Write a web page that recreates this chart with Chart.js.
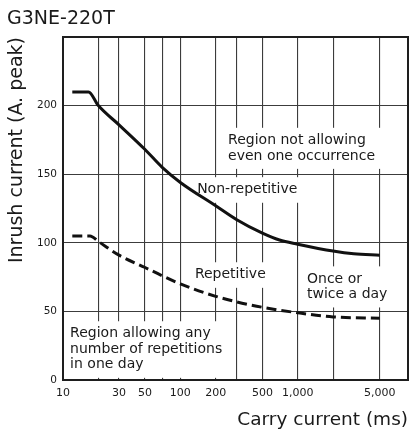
<!DOCTYPE html>
<html>
<head>
<meta charset="utf-8">
<script src="https://cdn.jsdelivr.net/npm/chart.js@4/dist/chart.umd.min.js"></script>
<style>
  html, body { margin: 0; padding: 0; background: #fff; }
  #wrap { position: relative; width: 409px; height: 430px; }
</style>
</head>
<body>
<div id="wrap"><canvas id="inrush"></canvas></div>
<script>
const chartTitle = 'G3NE-220T';
const xTitle = 'Carry current (ms)';
const yTitle = 'Inrush current (A. peak)';

// carry time (ms) against allowed inrush current (A peak)
const nonRepMs = [12, 16.5, 20, 30, 50, 70, 100, 200, 300, 500, 700, 1000, 2000, 3000, 5000];
const nonRepAmps = [210, 210, 200, 186, 168, 155, 144, 127, 117, 107, 102, 99, 94, 92, 91];
const repMs = [12, 17, 20, 30, 50, 70, 100, 200, 300, 500, 1000, 2000, 5000];
const repAmps = [105, 105, 101, 91, 82, 76, 70, 61, 57, 53, 49, 46, 45];

const xGridValues = [10, 20, 30, 50, 70, 100, 200, 300, 500, 1000, 2000, 5000];
const xTickLabels = { 10: '10', 30: '30', 50: '50', 100: '100', 200: '200', 500: '500', 1000: '1,000', 5000: '5,000' };
const yTickLabels = [0, 50, 100, 150, 200];

const FONT = 'DejaVu Sans';
const INK = '#1a1a1a';

const toPoints = (xs, ys) => xs.map((x, i) => ({ x, y: ys[i] }));

// text blocks sitting on white patches over the grid
const regionNotes = {
  id: 'regionNotes',
  beforeDatasetsDraw(chart, args, opts) {
    const { ctx, chartArea, scales: { x, y } } = chart;
    ctx.save();
    ctx.font = `${opts.size}px "${FONT}"`;
    ctx.textBaseline = 'alphabetic';
    opts.items.forEach(item => {
      const left = x.getPixelForValue(item.ms);
      const base = y.getPixelForValue(item.amps);
      const w = Math.max(...item.lines.map(l => ctx.measureText(l).width));
      const top = base - opts.size * 0.73 - opts.pad;
      const bottom = base + (item.lines.length - 1) * opts.lineHeight + opts.size * 0.24 + opts.pad;
      ctx.fillStyle = '#fff';
      ctx.fillRect(left - opts.pad, top, w + opts.pad * 2, bottom - top);
      ctx.fillStyle = INK;
      item.lines.forEach((l, i) => ctx.fillText(l, left, base + i * opts.lineHeight));
    });
    ctx.strokeStyle = '#1e1e1e';
    ctx.lineWidth = 2;
    ctx.strokeRect(chartArea.left, chartArea.top, chartArea.right - chartArea.left, chartArea.bottom - chartArea.top);
    ctx.restore();
  }
};

const noPadding = scale => {
  scale.paddingLeft = 0;
  scale.paddingRight = 0;
  scale.paddingTop = 0;
  scale.paddingBottom = 0;
};

new Chart(document.getElementById('inrush'), {
  type: 'line',
  data: {
    datasets: [
      {
        label: 'Non-repetitive',
        data: toPoints(nonRepMs, nonRepAmps),
        borderColor: '#111',
        borderWidth: 3,
        pointRadius: 0,
        cubicInterpolationMode: 'monotone',
        fill: false
      },
      {
        label: 'Repetitive',
        data: toPoints(repMs, repAmps),
        borderColor: '#111',
        borderWidth: 3,
        borderDash: [10, 5],
        pointRadius: 0,
        cubicInterpolationMode: 'monotone',
        fill: false
      }
    ]
  },
  options: {
    responsive: true,
    maintainAspectRatio: false,
    animation: false,
    layout: { padding: { left: 7, right: 1, top: 0, bottom: 0 } },
    plugins: {
      legend: { display: false },
      tooltip: { enabled: false },
      title: {
        display: true,
        text: chartTitle,
        align: 'start',
        color: INK,
        font: { family: FONT, size: 19, weight: 'normal', lineHeight: 1 },
        padding: { top: 10, bottom: 8 }
      },
      regionNotes: {
        size: 14,
        lineHeight: 15.5,
        pad: 6,
        items: [
          { lines: ['Region not allowing', 'even one occurrence'], ms: 255, amps: 172 },
          { lines: ['Non-repetitive'], ms: 139, amps: 136 },
          { lines: ['Repetitive'], ms: 133, amps: 74 },
          { lines: ['Once or', 'twice a day'], ms: 1200, amps: 71 },
          { lines: ['Region allowing any', 'number of repetitions', 'in one day'], ms: 11.5, amps: 31 }
        ]
      }
    },
    scales: {
      x: {
        type: 'logarithmic',
        min: 10,
        max: 8700,
        afterBuildTicks: scale => { scale.ticks = xGridValues.map(value => ({ value })); },
        afterFit: scale => { scale.height = 50; noPadding(scale); },
        grid: { color: '#3c3c3c', lineWidth: 1.1, drawTicks: false },
        border: { display: false },
        ticks: {
          autoSkip: false,
          maxRotation: 0,
          padding: 7,
          color: INK,
          font: { family: FONT, size: 11 },
          callback: value => xTickLabels[value] ?? ''
        },
        title: {
          display: true,
          text: xTitle,
          align: 'end',
          color: INK,
          font: { family: FONT, size: 18.5, lineHeight: 1 },
          padding: { top: 0, bottom: 1 }
        }
      },
      y: {
        min: 0,
        max: 250,
        afterFit: scale => { scale.width = 56; noPadding(scale); },
        grid: { color: '#3c3c3c', lineWidth: 1.1, drawTicks: false },
        border: { display: false },
        ticks: {
          stepSize: 50,
          padding: 6,
          color: INK,
          font: { family: FONT, size: 10.5 },
          callback: value => yTickLabels.includes(value) ? value : ''
        },
        title: {
          display: true,
          text: yTitle,
          align: 'end',
          color: INK,
          font: { family: FONT, size: 19, lineHeight: 1 },
          padding: { top: 1, bottom: 0 }
        }
      }
    }
  },
  plugins: [regionNotes]
});
</script>
</body>
</html>
